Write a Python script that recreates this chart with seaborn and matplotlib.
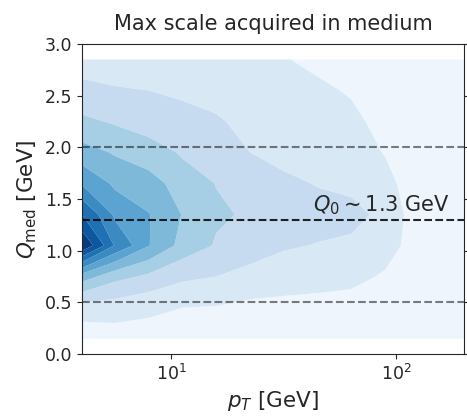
import numpy as np
import matplotlib
matplotlib.use("Agg")
import matplotlib.pyplot as plt
import seaborn as sns

# grid of pT (GeV) and Q_med (GeV) nodes
pt_nodes = [4, 5.6, 7.9, 11.2, 15.8, 22.4, 31.6, 44.7, 63.1, 89.1, 125.9, 200]
q_nodes = [0.15, 0.45, 0.75, 1.05, 1.35, 1.65, 1.95, 2.25, 2.55, 2.85]

# density (arbitrary units), one list per pT node, values along q_nodes
d_pt4 = [0.4, 1.5, 4.5, 9.9, 8.0, 5.9, 4.4, 3.2, 2.3, 1.5]
d_pt5 = [0.5, 1.5, 3.3, 6.9, 5.8, 4.8, 3.9, 2.88, 2.1, 1.4]
d_pt8 = [0.6, 1.2, 2.8, 5.05, 5.05, 4.4, 3.48, 2.52, 2.0, 1.3]
d_pt11 = [0.5, 1.0, 2.2, 3.6, 3.95, 3.5, 2.875, 2.3, 1.85, 1.25]
d_pt16 = [0.45, 0.95, 2.0, 2.9, 3.15, 2.97, 2.6, 2.1, 1.7, 1.2]
d_pt22 = [0.4, 0.78, 1.6, 2.6, 2.85, 2.5, 2.0, 1.7, 1.4, 1.1]
d_pt32 = [0.35, 0.7, 1.5, 2.1, 2.6, 2.2, 1.7, 1.4, 1.2, 1.02]
d_pt45 = [0.3, 0.65, 1.4, 1.95, 2.4, 1.94, 1.5, 1.25, 1.08, 0.9]
d_pt63 = [0.28, 0.55, 1.3, 1.85, 2.25, 1.8, 1.4, 1.12, 0.95, 0.7]
d_pt89 = [0.25, 0.45, 0.85, 1.55, 1.75, 1.35, 0.95, 0.8, 0.65, 0.5]
d_pt126 = [0.15, 0.2, 0.25, 0.25, 0.3, 0.2, 0.15, 0.12, 0.1, 0.08]
d_pt200 = [0.1, 0.12, 0.15, 0.15, 0.15, 0.12, 0.1, 0.08, 0.06, 0.05]

ref_lines = [0.5, 2.0]
q0_value = 1.3
title = "Max scale acquired in medium"

columns = [d_pt4, d_pt5, d_pt8, d_pt11, d_pt16, d_pt22, d_pt32, d_pt45,
           d_pt63, d_pt89, d_pt126, d_pt200]
Z = np.array(columns).T

sns.set_style("ticks")
plt.rcParams['font.family'] = ['DejaVu Sans']

fig = plt.figure(figsize=(4.67, 4.19), dpi=100)
ax = fig.add_axes([0.1756, 0.155, 0.8180, 0.740])

cmap = sns.color_palette("Blues", as_cmap=True)
ax.contourf(pt_nodes, q_nodes, Z, levels=np.arange(0, 11), cmap=cmap,
            antialiased=True)

for y in ref_lines:
    ax.axhline(y, color='k', alpha=0.5, ls='--', lw=1.5)
ax.axhline(q0_value, color='k', alpha=0.85, ls='--', lw=1.5)
ax.text(42.5, q0_value + 0.03, r"$Q_0 \sim 1.3$ GeV", fontsize=15,
        color='.15', ha='left', va='bottom')

ax.set_xscale('log')
ax.set_xlim(4, 200)
ax.set_ylim(0, 3.0)
ax.set_yticks([0, 0.5, 1.0, 1.5, 2.0, 2.5, 3.0])
ax.xaxis.set_minor_locator(matplotlib.ticker.NullLocator())
ax.tick_params(axis='both', labelsize=12.5)
ax.tick_params(axis='y', right=True)
ax.set_xlabel(r"$p_T$ [GeV]", fontsize=15.5)
ax.set_ylabel(r"$Q_{\rm med}$ [GeV]", fontsize=15.5)
ax.set_title(title, fontsize=15, pad=10)

fig.savefig("out.png", dpi=100)
